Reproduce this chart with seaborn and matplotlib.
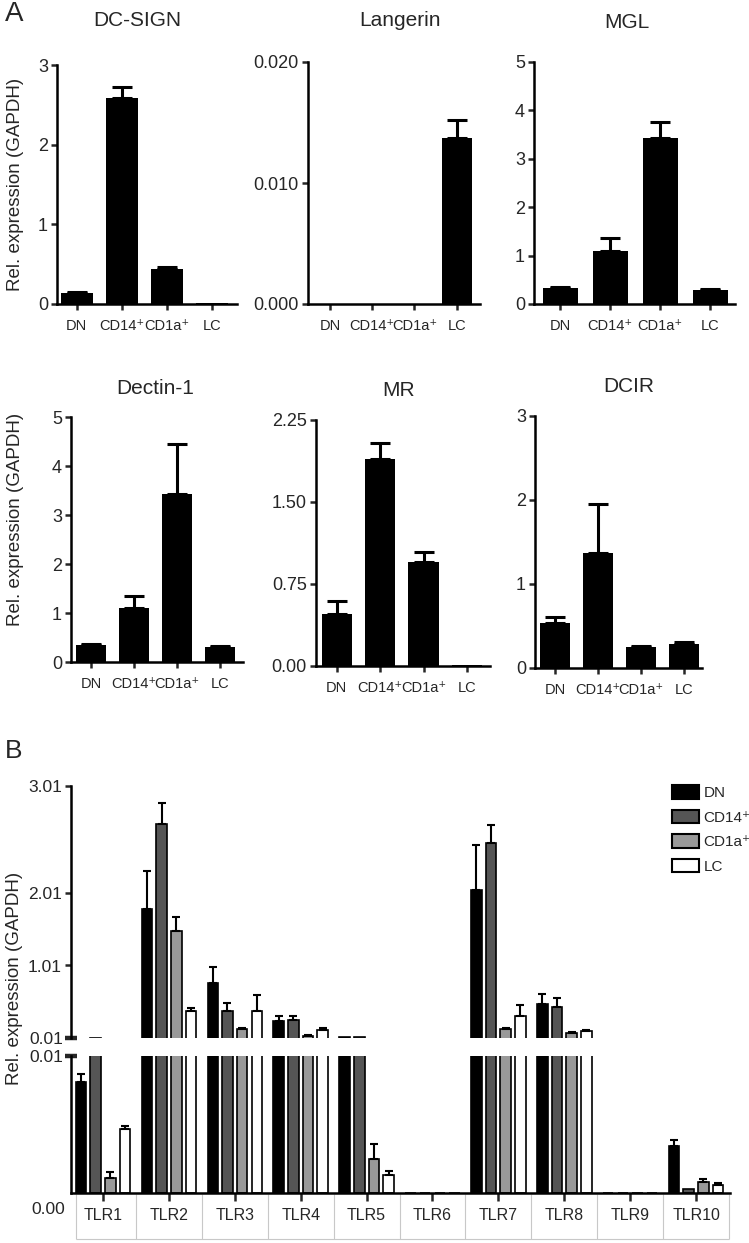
import numpy as np
import pandas as pd
import matplotlib
matplotlib.use('Agg')
import matplotlib.pyplot as plt
import seaborn as sns
from matplotlib.patches import Patch
from matplotlib.transforms import blended_transform_factory

# --- data -------------------------------------------------------------
cells = ['DN', 'CD14⁺', 'CD1a⁺', 'LC']

# A: C-type lectin receptors, mean and SEM (rel. to GAPDH)
dc_sign = [0.14, 2.58, 0.44, 0.01]
dc_sign_err = [0.01, 0.15, 0.03, 0.0]
langerin = [0.0, 0.0, 0.0, 0.0137]
langerin_err = [0.0, 0.0, 0.0, 0.0015]
mgl = [0.34, 1.09, 3.42, 0.29]
mgl_err = [0.01, 0.27, 0.35, 0.02]
dectin1 = [0.35, 1.10, 3.43, 0.31]
dectin1_err = [0.01, 0.25, 1.02, 0.02]
mr = [0.48, 1.89, 0.95, 0.01]
mr_err = [0.11, 0.15, 0.09, 0.0]
dcir = [0.54, 1.37, 0.25, 0.29]
dcir_err = [0.07, 0.58, 0.01, 0.02]

# B: Toll-like receptors
receptors = ['TLR1', 'TLR2', 'TLR3', 'TLR4', 'TLR5',
             'TLR6', 'TLR7', 'TLR8', 'TLR9', 'TLR10']
tlr_dn = [0.0081, 1.79, 0.77, 0.24, 0.02, 0.0, 2.05, 0.48, 0.0, 0.0034]
tlr_dn_err = [0.0006, 0.52, 0.22, 0.07, 0.0, 0.0, 0.62, 0.14, 0.0, 0.0005]
tlr_cd14 = [0.012, 2.96, 0.38, 0.26, 0.02, 0.0, 2.70, 0.44, 0.0, 0.0003]
tlr_cd14_err = [0.0, 0.29, 0.11, 0.05, 0.0, 0.0, 0.25, 0.12, 0.0, 0.0]
tlr_cd1a = [0.0011, 1.49, 0.13, 0.04, 0.0025, 0.0, 0.13, 0.08, 0.0, 0.0008]
tlr_cd1a_err = [0.0004, 0.19, 0.02, 0.01, 0.0011, 0.0, 0.02, 0.01, 0.0, 0.0002]
tlr_lc = [0.0047, 0.38, 0.38, 0.12, 0.0013, 0.0, 0.31, 0.11, 0.0, 0.0006]
tlr_lc_err = [0.0002, 0.04, 0.22, 0.03, 0.0003, 0.0, 0.16, 0.01, 0.0, 0.0001]
tlr_colors = ['#000000', '#555555', '#999999', '#ffffff']

# --- style ------------------------------------------------------------
sns.set_style('ticks')
plt.rcParams['font.family'] = ['Liberation Sans', 'DejaVu Sans']
plt.rcParams['axes.linewidth'] = 1.8
plt.rcParams['axes.edgecolor'] = 'black'

W, H = 749, 1243
fig = plt.figure(figsize=(W / 100, H / 100), dpi=100)


def box(l, t, r, b):
    return [l / W, 1 - b / H, (r - l) / W, (b - t) / H]


def ftext(x, y, s, **kw):
    fig.text(x / W, 1 - y / H, s, ha='center', va='center', **kw)


# --- panel A ----------------------------------------------------------
panels = [
    ('DC-SIGN', dc_sign, dc_sign_err, 3, [0, 1, 2, 3], ['0', '1', '2', '3'],
     (57, 65, 237, 304), (-0.44, 3.56), (137, 20)),
    ('Langerin', langerin, langerin_err, 0.02, [0, 0.01, 0.02],
     ['0.000', '0.010', '0.020'],
     (308, 62, 480, 304), (-0.52, 3.55), (400, 20)),
    ('MGL', mgl, mgl_err, 5, [0, 1, 2, 3, 4, 5], ['0', '1', '2', '3', '4', '5'],
     (534, 62, 735, 304), (-0.52, 3.5), (627, 22)),
    ('Dectin-1', dectin1, dectin1_err, 5, [0, 1, 2, 3, 4, 5],
     ['0', '1', '2', '3', '4', '5'],
     (71, 417, 243, 662), (-0.47, 3.53), (155, 388)),
    ('MR', mr, mr_err, 2.25, [0, 0.75, 1.5, 2.25],
     ['0.00', '0.75', '1.50', '2.25'],
     (316, 420, 490, 666), (-0.48, 3.53), (399, 390)),
    ('DCIR', dcir, dcir_err, 3, [0, 1, 2, 3], ['0', '1', '2', '3'],
     (535, 416, 702, 668), (-0.47, 3.42), (629, 387)),
]

for title, vals, errs, ymax, yt, ytl, bx, xl, tpos in panels:
    ax = fig.add_axes(box(*bx))
    sns.barplot(x=cells, y=vals, color='black', width=0.7, errorbar=None,
                saturation=1, linewidth=0, ax=ax)
    xc = np.array([p.get_x() + p.get_width() / 2 for p in ax.patches])
    v = np.array(vals)
    e = np.array(errs)
    m = e > 0
    ax.errorbar(xc[m], v[m], yerr=[np.zeros(m.sum()), e[m]], fmt='none',
                ecolor='black', elinewidth=2.2, capsize=7, capthick=2.2)
    ax.set_ylim(0, ymax)
    ax.set_xlim(*xl)
    ax.set_yticks(yt, labels=ytl)
    ax.set_xlabel('')
    ax.set_ylabel('')
    sns.despine(ax=ax)
    ax.tick_params(axis='y', length=4.5, width=1.8, labelsize=13, pad=2)
    ax.tick_params(axis='x', length=4.5, width=1.8, labelsize=10.5, pad=6)
    ftext(tpos[0], tpos[1], title, fontsize=15)

ftext(16, 184, 'Rel. expression (GAPDH)', fontsize=13.5, rotation=90)
ftext(16, 519, 'Rel. expression (GAPDH)', fontsize=13.5, rotation=90)
ftext(14, 14, 'A', fontsize=20)

# --- panel B: broken y axis ------------------------------------------
rows = []
for name, vals, errs in [('DN', tlr_dn, tlr_dn_err), ('CD14⁺', tlr_cd14, tlr_cd14_err),
                         ('CD1a⁺', tlr_cd1a, tlr_cd1a_err), ('LC', tlr_lc, tlr_lc_err)]:
    for r, v, e in zip(receptors, vals, errs):
        rows.append({'receptor': r, 'cell': name, 'value': v, 'err': e})
tlr = pd.DataFrame(rows)

ax_hi = fig.add_axes(box(71, 786, 730, 1038))
ax_lo = fig.add_axes(box(71, 1056, 730, 1193))
hi_low, hi_top = 0.01, 0.01 + 252 / 72.5

bw = 0.89
for ax, lo in ((ax_hi, hi_low), (ax_lo, -1)):
    # bars that end below this segment are not drawn in it
    seg = tlr.assign(value=tlr['value'].where(tlr['value'] > lo))
    sns.barplot(data=seg, x='receptor', y='value', hue='cell',
                hue_order=cells, order=receptors, palette=tlr_colors,
                saturation=1, width=bw, gap=0.28, errorbar=None,
                edgecolor='black', linewidth=1.2, legend=False, ax=ax)
    slot = bw / len(cells)
    for j, name in enumerate(cells):
        sub = seg[seg.cell == name].set_index('receptor').loc[receptors]
        xs = np.arange(len(receptors)) + (j - 1.5) * slot
        m = (sub['err'].values > 0) & sub['value'].notna().values
        ax.errorbar(xs[m], sub['value'].values[m],
                    yerr=[np.zeros(m.sum()), sub['err'].values[m]],
                    fmt='none', ecolor='black', elinewidth=1.5,
                    capsize=2.8, capthick=1.5)
    ax.set_xlim(-0.486, 9.515)
    ax.set_xlabel('')
    ax.set_ylabel('')

ax_hi.set_ylim(hi_low, hi_top)
ax_hi.set_yticks([1.01, 2.01, hi_top], labels=['1.01', '2.01', '3.01'])
ax_hi.set_yticks([0.01], labels=['0.01'], minor=True)
ax_hi.tick_params(axis='y', which='major', length=4.5, width=1.8,
                  labelsize=12.5, pad=2)
ax_hi.tick_params(axis='y', which='minor', direction='inout', length=9,
                  width=3.2, labelsize=12.5, pad=1)
ax_hi.tick_params(axis='x', bottom=False, labelbottom=False)
for s in ('top', 'right', 'bottom'):
    ax_hi.spines[s].set_visible(False)

ax_lo.set_ylim(0, 0.01)
ax_lo.set_yticks([0.01], labels=['0.01'])
ax_lo.tick_params(axis='y', direction='inout', length=9, width=3.2,
                  labelsize=12.5, pad=1)
ax_lo.tick_params(axis='x', length=5.5, width=1.8, labelsize=11.5, pad=5)
for s in ('top', 'right'):
    ax_lo.spines[s].set_visible(False)

# label table under the x axis
trans = blended_transform_factory(ax_lo.transData, ax_lo.transAxes)
tb = -46 / 137
edges = [-0.41] + [i + 0.5 for i in range(len(receptors) - 1)] + [9.5]
ax_lo.vlines(edges, tb, -0.01, transform=trans, colors='#c8c8c8',
             linewidth=0.8, clip_on=False)
ax_lo.hlines(tb, edges[0], edges[-1], transform=trans, colors='#c8c8c8',
             linewidth=0.8, clip_on=False)

handles = [Patch(facecolor=c, edgecolor='black', linewidth=1.5) for c in tlr_colors]
fig.legend(handles, cells, loc='upper left',
           bbox_to_anchor=(666 / W, 1 - 779 / H), frameon=False,
           fontsize=11, handlelength=1.75, handleheight=1.0,
           labelspacing=0.62, handletextpad=0.3, borderaxespad=0)

ftext(48, 1210, '0.00', fontsize=12.5)
ftext(15, 978, 'Rel. expression (GAPDH)', fontsize=13.5, rotation=90)
ftext(14, 751, 'B', fontsize=19)

fig.savefig('out.png', dpi=100)
